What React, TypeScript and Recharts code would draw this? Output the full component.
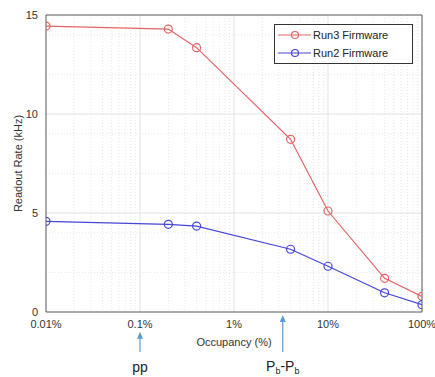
import { LineChart, Line, XAxis, YAxis, CartesianGrid, ReferenceLine, ReferenceArea } from 'recharts';

const occupancy = [0.01, 0.2, 0.4, 4, 10, 40, 100];
const run3 = [14.44, 14.29, 13.35, 8.72, 5.1, 1.7, 0.79];
const run2 = [4.58, 4.43, 4.34, 3.17, 2.31, 0.97, 0.37];
const xTicks = [0.01, 0.1, 1, 10, 100];
const yTicks = [0, 5, 10, 15];
const xMinor = [0.02, 0.03, 0.04, 0.05, 0.06, 0.07, 0.08, 0.09, 0.2, 0.3, 0.4, 0.5, 0.6, 0.7, 0.8, 0.9, 2, 3, 4, 5, 6, 7, 8, 9, 20, 30, 40, 50, 60, 70, 80, 90];
const yMinor = [1, 2, 3, 4, 6, 7, 8, 9, 11, 12, 13, 14];

const data = occupancy.map((x, i) => ({ x, run3: run3[i], run2: run2[i] }));

const RED = '#e36464';
const BLUE = '#4646d6';
const FONT = 'Liberation Sans, Arial, sans-serif';

const fmt = (v: number) => `${v}%`;

// arrow pointing up at the x-axis with a label underneath
const Arrow = (label: React.ReactNode, dyText: number) => (props: any) => {
  const { x1, y1, x2, y2 } = props;
  return (
    <g>
      <line x1={x1} y1={y1 + 4} x2={x2} y2={y2} stroke="#5b9bd5" strokeWidth={1.2} />
      <polygon points={`${x1},${y1} ${x1 - 3},${y1 + 7} ${x1 + 3},${y1 + 7}`} fill="#5b9bd5" />
      <text x={x2} y={y2 + dyText} textAnchor="middle" fontSize={14} fontFamily={FONT} fill="#222">
        {label}
      </text>
    </g>
  );
};

const series = [
  { name: 'Run3 Firmware', c: RED },
  { name: 'Run2 Firmware', c: BLUE },
];

const LegendBox = () => (
  <div
    style={{
      position: 'absolute', left: 274, top: 24, width: 137, height: 37,
      border: '1px solid #333', background: '#fff', fontFamily: FONT, fontSize: 11, color: '#222',
      paddingTop: 1,
    }}
  >
    {series.map((s) => (
      <div key={s.name} style={{ display: 'flex', alignItems: 'center', height: 18 }}>
        <svg width={38} height={12}>
          <line x1={3} y1={6} x2={36} y2={6} stroke={s.c} strokeWidth={1.2} />
          <circle cx={20} cy={6} r={3.5} fill="none" stroke={s.c} strokeWidth={1.2} />
        </svg>
        <span>{s.name}</span>
      </div>
    ))}
  </div>
);

export default function App() {
  return (
    <div style={{ position: 'relative', width: 435, height: 377, background: '#fff' }}>
      <style>{'body{margin:0}'}</style>
      <LineChart width={435} height={377} data={data} margin={{ top: 15, right: 13, bottom: 0, left: 0 }}>
        <CartesianGrid stroke="#e6e6e6" strokeDasharray="1 2" horizontalValues={yMinor} verticalValues={xMinor} />
        <CartesianGrid stroke="#e2e2e2" horizontalValues={[5, 10]} verticalValues={[0.1, 1, 10]} />
        <XAxis
          dataKey="x"
          type="number"
          scale="log"
          domain={[0.01, 100]}
          ticks={xTicks}
          tickFormatter={fmt}
          allowDataOverflow
          interval={0}
          height={65}
          axisLine={false}
          tickLine={false}
          tick={{ fontSize: 11, fill: '#333', fontFamily: FONT }}
          label={{ value: 'Occupancy (%)', position: 'insideTop', offset: 26, fontSize: 11, fill: '#333', fontFamily: FONT }}
        />
        <YAxis
          type="number"
          domain={[0, 15]}
          ticks={yTicks}
          width={46}
          axisLine={false}
          tickLine={false}
          tick={{ fontSize: 11, fill: '#333', fontFamily: FONT }}
          label={{ value: 'Readout Rate (kHz)', angle: -90, position: 'insideLeft', offset: 18, fontSize: 11, fill: '#333', fontFamily: FONT, style: { textAnchor: 'middle' } }}
        />
        <ReferenceArea x1={0.01} x2={100} y1={0} y2={15} fill="none" stroke="#555" strokeWidth={1} fillOpacity={0} />
        <Line dataKey="run3" name="Run3 Firmware" stroke={RED} strokeWidth={1.2} dot={{ r: 4, fill: 'none', stroke: RED, strokeWidth: 1.2 }} isAnimationActive={false} />
        <Line dataKey="run2" name="Run2 Firmware" stroke={BLUE} strokeWidth={1.2} dot={{ r: 4, fill: 'none', stroke: BLUE, strokeWidth: 1.2 }} isAnimationActive={false} />
        <ReferenceLine
          segment={[{ x: 0.1, y: -1 }, { x: 0.1, y: -2.02 }]}
          ifOverflow="visible"
          shape={Arrow('pp', 20)}
        />
        <ReferenceLine
          segment={[{ x: 3.3, y: -0.15 }, { x: 3.3, y: -2.02 }]}
          ifOverflow="visible"
          shape={Arrow(
            <>
              P<tspan fontSize={9} dy={3}>b</tspan>
              <tspan dy={-3}>-P</tspan>
              <tspan fontSize={9} dy={3}>b</tspan>
            </>,
            19
          )}
        />
      </LineChart>
      <LegendBox />
    </div>
  );
}
